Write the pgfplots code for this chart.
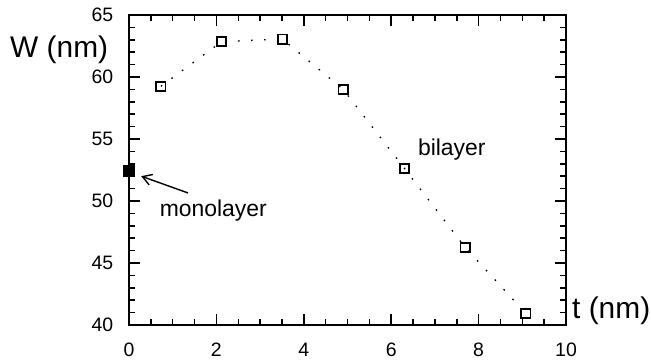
\documentclass[border=0pt]{standalone}
\usepackage{fontspec}
\setmainfont{Liberation Sans}
\usepackage{pgfplots}
\pgfplotsset{compat=1.18}
\usetikzlibrary{arrows.meta}
\begin{document}
\begin{tikzpicture}
\begin{axis}[
  scale only axis, width=437bp, height=310bp,
  xmin=0, xmax=10, ymin=40, ymax=65,
  xtick={0,2,4,6,8,10}, ytick={40,45,50,55,60,65},
  minor x tick num=3, minor y tick num=4,
  major tick length=11bp, minor tick length=6bp,
  tick align=inside,
  axis line style={line width=1.7bp},
  every tick/.append style={line width=1.5bp, black},
  /pgf/number format/assume math mode=true,
  xticklabel={\hbox{\fontsize{19.5}{22}\selectfont\pgfmathprintnumber{\tick}}},
  yticklabel={\hbox{\fontsize{19.5}{22}\selectfont\pgfmathprintnumber{\tick}}},
  xticklabel style={anchor=base, inner sep=0pt, yshift=-31.7bp},
  yticklabel style={anchor=east, inner sep=0pt, xshift=-15.5bp},
  clip=false,
]
\coordinate (sw) at (rel axis cs:0,0);
\coordinate (ne) at (rel axis cs:1,1);
\addplot[black, line width=1.3bp, dash pattern=on 1.6bp off 11.5bp, mark=square, mark size=4.6bp, mark options={solid, line width=1.7bp}]
  coordinates {(0.73,59.25) (2.12,62.85) (3.51,63.06) (4.90,59.0) (6.30,52.64) (7.69,46.27) (9.08,40.94)};
\addplot[only marks, black, mark=square*, mark size=5.5bp, mark options={fill=black}]
  coordinates {(0,52.45)};
\draw[black, line width=1.4bp, -{Straight Barb[length=9bp,width=11bp,line width=1.4bp]}] (axis cs:1.35,50.65) -- (axis cs:0.28,52.0);
\node[anchor=base west, inner sep=0pt, font=\fontsize{23}{26}\selectfont] at (axis cs:0.70,48.79) {monolayer};
\node[anchor=base west, inner sep=0pt, font=\fontsize{23}{26}\selectfont] at (axis cs:6.61,53.63) {bilayer};
\end{axis}
\node[anchor=base west, inner sep=0pt, font=\fontsize{30}{34}\selectfont] at ([xshift=-119bp,yshift=-42.3bp]sw |- ne) {W (nm)};
\node[anchor=base west, inner sep=0pt, font=\fontsize{30}{34}\selectfont] at ([xshift=6bp,yshift=7bp]ne |- sw) {t (nm)};
\pgfresetboundingbox
\path[use as bounding box] ([xshift=-129bp,yshift=-38bp]sw) rectangle ([xshift=85bp,yshift=15bp]ne);
\end{tikzpicture}
\end{document}
